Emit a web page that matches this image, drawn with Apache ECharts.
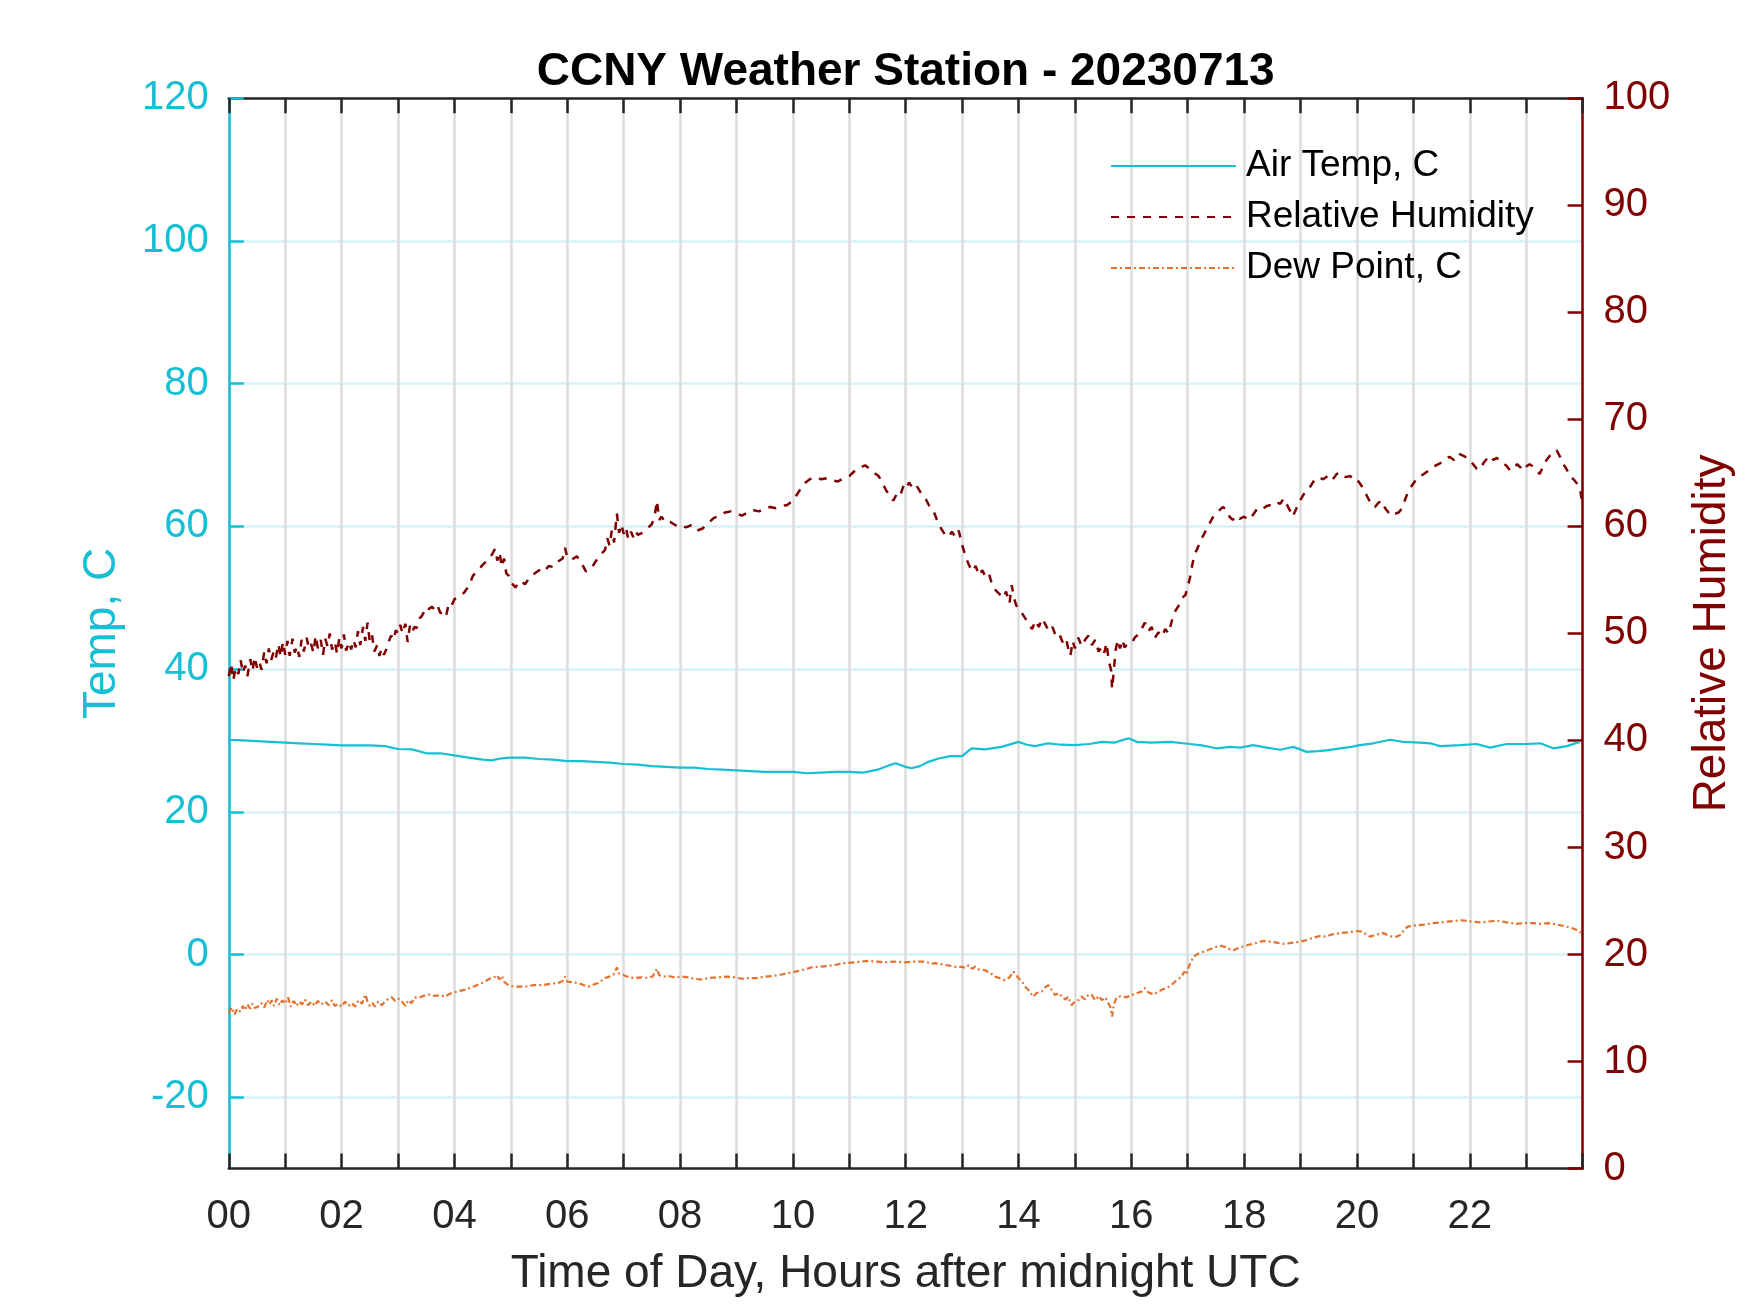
<!DOCTYPE html>
<html lang="en">
<head>
<meta charset="UTF-8">
<title>CCNY Weather Station - 20230713</title>
<style>
  html, body { margin: 0; padding: 0; background: #fff; }
  #chart { width: 1750px; height: 1313px; }
</style>
</head>
<body>
<div id="chart"></div>
<script src="https://cdn.jsdelivr.net/npm/echarts@6.0.0/dist/echarts.min.js"></script>
<script>
// values, [hour after midnight UTC, value]
const airTemp = [
  [0,30.1],[0.25,30.0],[0.5,29.9],[0.75,29.8],[1.0,29.7],[1.25,29.6],[1.5,29.5],[1.75,29.4],[2.0,29.3],[2.25,29.3],
  [2.5,29.3],[2.77,29.2],[3.0,28.8],[3.25,28.75],[3.5,28.2],[3.75,28.2],[4.0,27.9],[4.25,27.6],[4.5,27.3],[4.66,27.2],
  [4.84,27.5],[5.0,27.6],[5.25,27.6],[5.5,27.4],[5.75,27.3],[6.0,27.1],[6.25,27.1],[6.5,27.0],[6.75,26.9],[7.0,26.7],
  [7.25,26.6],[7.5,26.4],[7.75,26.3],[8.0,26.2],[8.25,26.2],[8.5,26.0],[8.75,25.9],[9.0,25.8],[9.25,25.7],[9.5,25.6],
  [9.75,25.6],[10.0,25.6],[10.25,25.4],[10.5,25.5],[10.75,25.6],[11.0,25.6],[11.25,25.5],[11.5,25.9],[11.7,26.5],[11.82,26.8],
  [12.0,26.3],[12.1,26.1],[12.25,26.4],[12.4,27.0],[12.6,27.5],[12.8,27.8],[13.0,27.8],[13.17,28.9],[13.4,28.75],[13.7,29.1],
  [14.0,29.8],[14.15,29.4],[14.29,29.2],[14.53,29.6],[14.75,29.4],[15.0,29.35],[15.25,29.5],[15.48,29.8],[15.7,29.7],[15.95,30.3],
  [16.1,29.8],[16.36,29.7],[16.69,29.8],[17.04,29.5],[17.25,29.3],[17.51,28.9],[17.75,29.1],[17.93,29.0],[18.16,29.35],[18.4,29.0],
  [18.64,28.7],[18.87,29.1],[19.11,28.4],[19.3,28.5],[19.46,28.6],[19.7,28.9],[19.9,29.1],[20.05,29.35],[20.29,29.6],[20.59,30.1],
  [20.82,29.8],[21.12,29.7],[21.3,29.6],[21.47,29.2],[21.83,29.35],[22.12,29.5],[22.36,29.0],[22.65,29.5],[23.01,29.5],[23.25,29.6],
  [23.48,28.9],[23.72,29.2],[23.95,29.8]
];

const relHumidity = [
  [0.00,46.0],[0.04,47.2],[0.08,45.6],[0.12,46.8],[0.17,46.2],[0.21,47.5],[0.25,46.3],[0.29,47.0],[0.33,46.0],[0.38,47.6],
  [0.42,46.5],[0.46,47.8],[0.50,46.8],[0.54,47.4],[0.58,46.6],[0.63,48.3],[0.67,47.2],[0.71,48.6],[0.75,47.5],[0.79,48.2],
  [0.83,47.6],[0.88,49.0],[0.92,47.8],[0.96,49.2],[1.00,48.0],[1.04,49.3],[1.08,47.9],[1.13,49.5],[1.17,48.2],[1.21,48.8],
  [1.25,47.8],[1.29,49.4],[1.33,48.3],[1.38,49.6],[1.42,48.6],[1.46,49.0],[1.50,48.2],[1.54,49.8],[1.58,48.6],[1.63,49.4],
  [1.67,48.0],[1.71,49.5],[1.75,48.8],[1.79,50.0],[1.83,48.5],[1.88,49.2],[1.92,48.1],[1.96,49.6],[2.00,48.6],[2.04,49.9],
  [2.08,48.4],[2.13,49.2],[2.17,48.5],[2.21,49.4],[2.25,48.7],[2.29,50.2],[2.33,48.9],[2.38,50.6],[2.42,49.3],[2.46,51.0],
  [2.50,49.2],[2.54,49.8],[2.58,48.3],[2.63,48.9],[2.67,47.9],[2.71,48.6],[2.75,48.0],[2.79,48.5],[2.83,49.2],[2.88,49.8],
  [2.92,49.4],[2.96,50.3],[3.00,50.0],[3.04,50.8],[3.08,50.0],[3.13,50.9],[3.17,49.2],[3.21,50.7],[3.25,50.1],[3.29,50.6],
  [3.33,50.5],[3.38,51.4],[3.42,51.6],[3.46,52.0],[3.50,51.8],[3.55,52.3],[3.60,52.5],[3.65,52.2],[3.70,52.6],[3.75,51.9],
  [3.80,52.0],[3.85,51.6],[3.90,52.8],[3.95,52.6],[4.00,53.2],[4.08,53.4],[4.17,53.8],[4.25,54.4],[4.33,55.4],[4.42,55.9],
  [4.50,56.4],[4.58,56.8],[4.67,57.4],[4.72,57.9],[4.76,56.8],[4.80,57.6],[4.84,56.2],[4.88,57.0],[4.92,55.6],[4.96,55.4],
  [5.00,54.8],[5.08,54.3],[5.17,54.9],[5.25,54.6],[5.33,55.2],[5.42,55.6],[5.50,55.9],[5.58,55.7],[5.67,56.3],[5.75,56.2],
  [5.83,56.7],[5.92,57.0],[5.96,58.0],[6.00,57.1],[6.08,56.9],[6.17,57.2],[6.25,56.6],[6.33,55.8],[6.42,56.0],[6.50,56.7],
  [6.58,57.3],[6.67,57.8],[6.71,58.9],[6.75,58.2],[6.79,59.6],[6.83,58.5],[6.88,61.2],[6.92,59.4],[6.96,60.2],[7.00,59.3],
  [7.04,59.9],[7.08,58.8],[7.13,59.5],[7.17,59.0],[7.21,59.6],[7.25,59.2],[7.33,59.4],[7.42,59.8],[7.50,60.2],[7.55,61.0],
  [7.59,62.4],[7.63,60.6],[7.67,60.9],[7.75,60.3],[7.83,60.4],[7.92,60.1],[8.00,60.2],[8.10,59.9],[8.20,60.1],[8.30,59.6],
  [8.40,59.8],[8.50,60.3],[8.60,60.8],[8.70,61.0],[8.80,61.3],[8.90,61.4],[9.00,61.2],[9.10,61.0],[9.20,61.3],[9.30,61.5],
  [9.40,61.4],[9.50,61.7],[9.60,61.8],[9.70,61.7],[9.80,61.9],[9.90,62.0],[10.00,62.4],[10.10,63.2],[10.20,64.0],[10.30,64.4],
  [10.40,64.6],[10.50,64.4],[10.60,64.5],[10.70,64.3],[10.80,64.2],[10.90,64.5],[11.00,64.7],[11.10,65.2],[11.20,65.5],[11.28,65.7],
  [11.36,65.4],[11.44,65.0],[11.52,64.7],[11.60,63.9],[11.66,63.3],[11.72,62.9],[11.78,62.4],[11.84,63.0],[11.90,62.8],[11.96,63.8],
  [12.00,63.5],[12.06,64.1],[12.12,63.6],[12.18,63.9],[12.24,63.4],[12.30,62.8],[12.36,62.5],[12.42,61.9],[12.48,61.6],[12.54,60.8],
  [12.58,60.2],[12.64,59.7],[12.70,59.2],[12.76,59.0],[12.82,59.5],[12.88,59.0],[12.94,59.6],[13.00,58.3],[13.06,57.2],[13.12,56.4],
  [13.18,55.8],[13.24,56.3],[13.30,55.4],[13.36,55.9],[13.42,55.2],[13.48,55.5],[13.54,54.4],[13.60,54.0],[13.66,53.7],[13.72,53.3],
  [13.78,53.9],[13.84,52.8],[13.88,54.5],[13.92,53.3],[13.96,52.6],[14.00,52.4],[14.06,51.9],[14.12,51.4],[14.18,50.9],[14.24,50.4],
  [14.30,51.2],[14.36,50.6],[14.42,51.4],[14.48,50.8],[14.54,50.2],[14.60,50.6],[14.66,49.8],[14.72,50.0],[14.78,49.2],[14.84,49.6],
  [14.88,48.6],[14.92,47.9],[14.96,49.3],[15.00,48.6],[15.06,49.6],[15.12,48.8],[15.18,49.4],[15.24,49.8],[15.30,48.9],[15.36,49.4],
  [15.42,48.3],[15.48,48.8],[15.52,48.2],[15.56,49.1],[15.60,47.4],[15.64,46.6],[15.66,44.8],[15.68,46.0],[15.72,48.4],[15.76,49.4],
  [15.80,48.6],[15.84,49.4],[15.88,48.7],[15.92,48.9],[16.00,49.0],[16.06,49.6],[16.12,49.9],[16.18,50.4],[16.24,51.0],[16.30,50.2],
  [16.36,50.6],[16.42,49.6],[16.48,50.1],[16.54,49.7],[16.60,50.4],[16.66,50.0],[16.72,51.2],[16.78,52.1],[16.84,52.6],[16.90,53.3],
  [16.96,53.6],[17.00,54.4],[17.04,55.2],[17.08,56.4],[17.12,57.4],[17.16,57.8],[17.20,58.3],[17.26,59.0],[17.32,59.6],[17.38,60.2],
  [17.44,60.8],[17.50,61.2],[17.56,61.5],[17.62,61.8],[17.68,61.6],[17.74,60.9],[17.80,60.6],[17.86,61.0],[17.92,60.7],[18.00,60.9],
  [18.08,60.6],[18.16,61.1],[18.24,61.7],[18.32,61.6],[18.40,61.9],[18.48,62.0],[18.56,62.3],[18.64,62.1],[18.70,62.6],[18.76,62.0],
  [18.82,61.4],[18.86,60.9],[18.92,61.6],[19.00,62.5],[19.08,63.2],[19.16,63.6],[19.24,64.3],[19.32,64.6],[19.40,64.4],[19.48,64.7],
  [19.56,64.3],[19.64,64.9],[19.72,65.0],[19.80,64.6],[19.88,64.7],[19.96,64.3],[20.00,64.4],[20.08,63.8],[20.14,63.2],[20.20,62.6],
  [20.26,62.0],[20.32,61.8],[20.38,62.2],[20.44,62.4],[20.50,61.7],[20.56,61.3],[20.62,61.5],[20.68,61.2],[20.74,61.3],[20.80,61.7],
  [20.86,62.6],[20.92,63.4],[21.00,64.0],[21.08,64.6],[21.16,64.8],[21.24,65.1],[21.32,65.4],[21.40,65.7],[21.48,65.9],[21.56,66.3],
  [21.64,66.5],[21.72,66.2],[21.80,66.8],[21.88,66.6],[21.96,66.4],[22.00,66.2],[22.06,65.8],[22.12,65.4],[22.18,65.3],[22.24,65.9],
  [22.30,66.3],[22.36,66.6],[22.42,66.2],[22.48,66.4],[22.54,66.0],[22.60,65.9],[22.66,65.6],[22.72,65.2],[22.78,65.5],[22.84,65.8],
  [22.90,65.5],[22.96,65.9],[23.00,65.6],[23.06,65.8],[23.12,65.6],[23.18,65.2],[23.24,64.9],[23.30,65.6],[23.36,66.2],[23.42,66.6],
  [23.48,66.9],[23.54,67.1],[23.60,66.5],[23.66,65.8],[23.72,65.3],[23.78,64.6],[23.84,64.4],[23.90,64.0],[23.96,63.4],[23.98,62.6]
];

const dewPoint = [
  [0.00,-8.2],[0.05,-7.4],[0.10,-8.4],[0.15,-7.6],[0.20,-8.0],[0.25,-7.2],[0.29,-7.8],[0.33,-7.0],[0.38,-7.6],[0.42,-6.9],
  [0.46,-7.5],[0.52,-7.3],[0.58,-6.8],[0.63,-7.4],[0.68,-6.4],[0.72,-7.0],[0.76,-6.4],[0.80,-7.2],[0.85,-6.2],[0.90,-7.1],
  [0.95,-6.4],[1.00,-6.9],[1.05,-6.0],[1.10,-7.3],[1.15,-6.5],[1.20,-7.2],[1.25,-6.6],[1.30,-7.0],[1.35,-6.3],[1.40,-7.1],
  [1.47,-6.6],[1.52,-7.2],[1.58,-6.5],[1.64,-7.0],[1.71,-6.6],[1.77,-7.1],[1.83,-6.4],[1.88,-7.2],[1.94,-6.9],[2.00,-7.3],
  [2.06,-6.6],[2.12,-7.2],[2.18,-6.8],[2.24,-7.3],[2.30,-6.4],[2.36,-6.9],[2.42,-5.6],[2.46,-6.6],[2.50,-7.2],[2.55,-6.8],
  [2.59,-7.3],[2.65,-6.6],[2.71,-7.1],[2.77,-6.6],[2.83,-6.2],[2.89,-6.0],[2.95,-6.5],[3.01,-6.2],[3.07,-6.6],[3.13,-7.2],
  [3.18,-6.4],[3.24,-6.8],[3.30,-6.0],[3.36,-6.1],[3.45,-5.8],[3.55,-5.6],[3.65,-5.8],[3.75,-5.7],[3.83,-5.9],[3.92,-5.5],
  [4.00,-5.3],[4.10,-5.1],[4.20,-4.9],[4.31,-4.6],[4.42,-4.2],[4.54,-3.8],[4.62,-3.4],[4.70,-3.2],[4.76,-2.9],[4.80,-3.5],
  [4.84,-3.0],[4.88,-3.8],[4.94,-4.2],[5.00,-4.4],[5.10,-4.5],[5.25,-4.5],[5.40,-4.3],[5.55,-4.3],[5.70,-4.1],[5.84,-4.0],
  [5.92,-3.7],[5.96,-3.1],[6.00,-3.8],[6.10,-3.9],[6.20,-4.0],[6.30,-4.3],[6.38,-4.5],[6.47,-4.2],[6.55,-4.0],[6.62,-3.6],
  [6.67,-3.3],[6.75,-3.1],[6.82,-2.8],[6.88,-1.8],[6.92,-2.7],[7.00,-2.9],[7.10,-3.2],[7.20,-3.3],[7.32,-3.2],[7.44,-3.3],
  [7.52,-3.0],[7.59,-2.0],[7.63,-2.9],[7.70,-3.1],[7.79,-3.0],[7.90,-3.2],[8.03,-3.1],[8.15,-3.2],[8.25,-3.4],[8.38,-3.5],
  [8.50,-3.3],[8.68,-3.2],[8.85,-3.1],[8.97,-3.2],[9.10,-3.4],[9.21,-3.3],[9.35,-3.3],[9.50,-3.1],[9.65,-3.0],[9.80,-2.8],
  [9.92,-2.6],[10.04,-2.4],[10.20,-2.1],[10.33,-1.8],[10.48,-1.7],[10.63,-1.6],[10.78,-1.4],[10.92,-1.2],[11.10,-1.1],[11.20,-1.0],
  [11.34,-0.9],[11.50,-1.0],[11.63,-1.1],[11.80,-1.0],[11.99,-1.1],[12.10,-1.0],[12.22,-1.0],[12.35,-1.0],[12.45,-1.3],[12.52,-1.2],
  [12.65,-1.4],[12.80,-1.6],[12.92,-1.8],[13.00,-1.7],[13.05,-1.9],[13.12,-1.5],[13.18,-2.0],[13.23,-1.7],[13.30,-2.1],[13.41,-2.2],
  [13.50,-2.6],[13.58,-3.1],[13.66,-3.3],[13.76,-3.6],[13.84,-3.2],[13.91,-2.4],[13.96,-2.9],[14.00,-3.3],[14.06,-3.8],[14.12,-4.5],
  [14.18,-5.0],[14.26,-5.9],[14.32,-5.4],[14.41,-5.2],[14.47,-4.6],[14.53,-4.3],[14.59,-5.0],[14.65,-5.7],[14.71,-5.4],[14.77,-5.9],
  [14.83,-6.3],[14.88,-5.9],[14.94,-7.1],[15.00,-6.6],[15.06,-6.4],[15.12,-5.9],[15.18,-6.3],[15.24,-5.6],[15.30,-5.7],[15.36,-6.4],
  [15.42,-5.8],[15.48,-6.4],[15.54,-6.0],[15.59,-6.8],[15.63,-7.4],[15.66,-8.7],[15.69,-7.0],[15.74,-6.0],[15.77,-6.1],[15.84,-5.8],
  [15.90,-6.0],[16.01,-5.7],[16.10,-5.4],[16.18,-5.2],[16.24,-4.7],[16.30,-5.3],[16.39,-5.6],[16.48,-5.2],[16.55,-4.9],[16.63,-4.7],
  [16.72,-4.2],[16.80,-3.6],[16.88,-3.2],[16.94,-2.4],[16.98,-2.8],[17.02,-1.6],[17.06,-1.0],[17.10,-0.3],[17.18,0.1],[17.28,0.4],
  [17.38,0.7],[17.51,1.1],[17.60,1.2],[17.69,1.0],[17.75,0.7],[17.81,0.6],[17.90,0.9],[18.05,1.3],[18.20,1.6],[18.34,1.9],
  [18.45,1.8],[18.55,1.7],[18.69,1.5],[18.80,1.6],[18.99,1.8],[19.10,2.0],[19.20,2.3],[19.34,2.6],[19.45,2.5],[19.55,2.8],
  [19.70,3.0],[19.85,3.1],[19.99,3.3],[20.08,3.2],[20.15,2.9],[20.23,2.5],[20.32,2.7],[20.40,2.9],[20.47,3.0],[20.55,2.7],
  [20.63,2.5],[20.70,2.5],[20.78,2.8],[20.84,3.5],[20.90,3.9],[21.06,4.1],[21.20,4.2],[21.35,4.4],[21.50,4.5],[21.60,4.6],
  [21.71,4.7],[21.85,4.8],[21.95,4.7],[22.05,4.6],[22.18,4.5],[22.30,4.6],[22.42,4.7],[22.54,4.7],[22.65,4.5],[22.75,4.4],
  [22.83,4.3],[22.95,4.4],[23.13,4.4],[23.25,4.3],[23.40,4.4],[23.55,4.2],[23.72,3.9],[23.85,3.6],[23.95,3.2],[23.98,2.9]
];

const hourLabels = [0, 2, 4, 6, 8, 10, 12, 14, 16, 18, 20, 22];
const tempTicks = [-20, 0, 20, 40, 60, 80, 100, 120];

const CYAN = '#17bfd4';
const DARKRED = '#800000';
const ORANGE = '#e5712e';
const AXIS = '#262626';
const FONT = '"Liberation Sans", Arial, sans-serif';

const chart = echarts.init(document.getElementById('chart'));

chart.setOption({
  animation: false,
  backgroundColor: '#fff',
  textStyle: { fontFamily: FONT },
  title: {
    text: 'CCNY Weather Station - 20230713',
    left: 905.7,
    textAlign: 'center',
    top: 46,
    padding: 0,
    textStyle: { fontFamily: FONT, fontSize: 46, fontWeight: 'bold', color: '#000', lineHeight: 52 }
  },
  legend: {
    orient: 'vertical',
    left: 1110,
    top: 146,
    padding: 0,
    itemWidth: 125,
    itemHeight: 14,
    itemGap: 11,
    itemStyle: { opacity: 0 },
    textStyle: { fontFamily: FONT, fontSize: 37, lineHeight: 40, color: '#000', padding: [0, 0, 0, 5] },
    data: ['Air Temp, C', 'Relative Humidity', 'Dew Point, C']
  },
  grid: { left: 228.8, right: 167.4, top: 98.2, bottom: 144.4, containLabel: false },
  xAxis: [
    {
      type: 'value',
      min: 0,
      max: 24,
      interval: 1,
      name: 'Time of Day, Hours after midnight UTC',
      nameLocation: 'middle',
      nameGap: 83,
      nameTextStyle: { fontFamily: FONT, fontSize: 46, color: AXIS },
      axisLine: { show: true, onZero: false, lineStyle: { color: AXIS, width: 2.5 } },
      axisTick: { show: true, inside: true, length: 15, lineStyle: { color: AXIS, width: 2.5 } },
      axisLabel: {
        customValues: hourLabels,
        margin: 28,
        fontSize: 40,
        fontFamily: FONT,
        color: AXIS,
        formatter: v => String(v).padStart(2, '0')
      },
      splitLine: { show: true, lineStyle: { color: '#dcdcdc', width: 2.5 } }
    },
    {
      type: 'value',
      position: 'top',
      min: 0,
      max: 24,
      interval: 1,
      axisLine: { show: true, onZero: false, lineStyle: { color: AXIS, width: 2.5 } },
      axisTick: { show: true, inside: true, length: 15, lineStyle: { color: AXIS, width: 2.5 } },
      axisLabel: { show: false },
      splitLine: { show: false }
    }
  ],
  yAxis: [
    {
      type: 'value',
      position: 'left',
      min: -30,
      max: 120,
      name: 'Temp, C',
      nameLocation: 'middle',
      nameGap: 103,
      nameTextStyle: { fontFamily: FONT, fontSize: 46, color: CYAN },
      axisLine: { show: true, onZero: false, lineStyle: { color: CYAN, width: 2.5 } },
      axisTick: { show: true, inside: true, length: 15, customValues: tempTicks, lineStyle: { color: CYAN, width: 2.5 } },
      axisLabel: { customValues: tempTicks, margin: 20, fontSize: 40, fontFamily: FONT, color: CYAN, padding: [4, 0, 0, 0] },
      splitLine: { show: true, lineStyle: { color: '#d6f2f6', width: 2.5 } }
    },
    {
      type: 'value',
      position: 'right',
      min: 0,
      max: 100,
      interval: 10,
      name: 'Relative Humidity',
      nameLocation: 'middle',
      nameGap: 107,
      nameTextStyle: { fontFamily: FONT, fontSize: 46, color: DARKRED },
      axisLine: { show: true, onZero: false, lineStyle: { color: DARKRED, width: 2.5 } },
      axisTick: { show: true, inside: true, length: 15, lineStyle: { color: DARKRED, width: 2.5 } },
      axisLabel: { margin: 21, fontSize: 40, fontFamily: FONT, color: DARKRED, padding: [4, 0, 0, 0] },
      splitLine: { show: false }
    }
  ],
  series: [
    {
      name: 'Air Temp, C',
      type: 'line',
      xAxisIndex: 0,
      yAxisIndex: 0,
      data: airTemp,
      symbol: 'none',
      showSymbol: false,
      color: CYAN,
      lineStyle: { color: CYAN, width: 2.2 },
      z: 3
    },
    {
      name: 'Relative Humidity',
      type: 'line',
      xAxisIndex: 0,
      yAxisIndex: 1,
      data: relHumidity,
      symbol: 'none',
      showSymbol: false,
      color: DARKRED,
      lineStyle: { color: DARKRED, width: 2.5, type: [8, 8] },
      z: 3
    },
    {
      name: 'Dew Point, C',
      type: 'line',
      xAxisIndex: 0,
      yAxisIndex: 0,
      data: dewPoint,
      symbol: 'none',
      showSymbol: false,
      color: ORANGE,
      lineStyle: { color: ORANGE, width: 2.2, type: [6, 3, 2, 3] },
      z: 3
    }
  ]
});
</script>
</body>
</html>
